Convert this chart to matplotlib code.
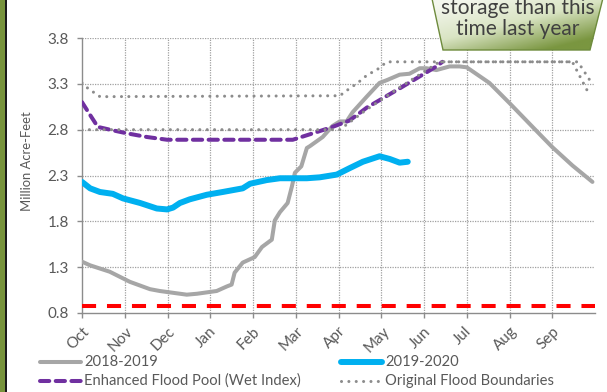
import numpy as np
import matplotlib
matplotlib.use("Agg")
import matplotlib.pyplot as plt
from matplotlib.lines import Line2D
from matplotlib.patches import Polygon, Rectangle
from matplotlib.colors import LinearSegmentedColormap
from matplotlib.transforms import ScaledTranslation

plt.rcParams['font.family'] = ['Lato', 'DejaVu Sans']

# ---- data (x = months since Oct 1, water year) ----
months = ["Oct", "Nov", "Dec", "Jan", "Feb", "Mar",
          "Apr", "May", "Jun", "Jul", "Aug", "Sep"]
y_ticks = [0.8, 1.3, 1.8, 2.3, 2.8, 3.3, 3.8]

wy2019_x = [0.00, 0.19, 0.65, 1.12, 1.59, 1.82, 2.45, 2.69, 3.15, 3.39, 3.50,
            3.57, 3.76, 4.04, 4.21, 4.44, 4.51, 4.63, 4.81, 4.91, 4.98, 5.13,
            5.26, 5.33, 5.63, 5.86, 6.03, 6.19, 6.33, 6.66, 6.96, 7.13, 7.43,
            7.66, 7.90, 8.06, 8.29, 8.60, 8.83, 9.00, 9.53, 10.00, 10.54,
            11.00, 11.47, 11.94]
wy2019_y = [1.36, 1.32, 1.25, 1.14, 1.06, 1.04, 1.00, 1.01, 1.04, 1.09, 1.11,
            1.24, 1.35, 1.41, 1.52, 1.60, 1.81, 1.90, 2.00, 2.18, 2.33, 2.40,
            2.60, 2.62, 2.72, 2.84, 2.89, 2.89, 2.99, 3.16, 3.31, 3.34, 3.40,
            3.41, 3.47, 3.47, 3.45, 3.49, 3.49, 3.48, 3.31, 3.09, 2.83,
            2.61, 2.41, 2.23]

wy2020_x = [0.00, 0.19, 0.42, 0.72, 0.96, 1.36, 1.75, 1.99, 2.13, 2.29, 2.52,
            2.92, 3.29, 3.76, 3.93, 4.32, 4.63, 5.26, 5.56, 5.96, 6.26, 6.57,
            6.96, 7.20, 7.43, 7.62]
wy2020_y = [2.23, 2.16, 2.12, 2.10, 2.05, 2.00, 1.94, 1.93, 1.95, 2.00, 2.04,
            2.09, 2.12, 2.16, 2.21, 2.25, 2.27, 2.27, 2.28, 2.31, 2.38, 2.45,
            2.51, 2.48, 2.44, 2.45]

enhanced_x = [0.00, 0.19, 0.37, 0.65, 1.05, 1.52, 1.99, 4.93, 5.40, 5.86,
              6.26, 6.66, 7.43, 8.29, 8.43]
enhanced_y = [3.10, 2.96, 2.83, 2.80, 2.76, 2.72, 2.69, 2.69, 2.76, 2.83,
              2.90, 3.04, 3.25, 3.49, 3.54]

orig_upper_x = [0.00, 0.14, 0.42, 6.03, 6.26, 6.45, 6.68, 6.89, 7.13, 11.47, 11.87]
orig_upper_y = [3.31, 3.25, 3.16, 3.17, 3.25, 3.31, 3.40, 3.45, 3.54, 3.54, 3.18]

orig_lower_x = [0.00, 6.03, 6.66, 7.43, 8.36, 11.60, 11.92]
orig_lower_y = [2.80, 2.80, 3.02, 3.26, 3.54, 3.54, 3.31]

dead_pool_x = [0.0, 12.0]
dead_pool_y = [0.88, 0.88]

# ---- styles ----
TXT = '#595959'
styles = {
    '2018-2019': dict(color='#A6A6A6', lw=2.9, solid_capstyle='round'),
    '2019-2020': dict(color='#00B0F0', lw=4.3, solid_capstyle='round'),
    'Enhanced Flood Pool (Wet Index)': dict(color='#7030A0', lw=2.9,
                                            linestyle=(0, (2.3, 1.6)),
                                            dash_capstyle='round'),
    'Original Flood Boundaries': dict(color='#8C8C8C', lw=2.2,
                                      linestyle=(0, (0.01, 2.4)),
                                      dash_capstyle='round'),
    'dead': dict(color='#FF0000', lw=2.9, linestyle=(0, (3.5, 2.7)),
                 dash_capstyle='butt'),
}

W, H = 607, 392
fig = plt.figure(figsize=(W / 100, H / 100), dpi=100)

# frame stripe on the left edge
fig.add_artist(Rectangle((0, 0), 5 / W, 1, transform=fig.transFigure,
                         color='#77933C', lw=0))
fig.add_artist(Rectangle((5 / W, 0), 2 / W, 1, transform=fig.transFigure,
                         color='#1a1a1a', lw=0))

left, right, top, bottom = 82, 595, 38, 313
ax = fig.add_axes([left / W, 1 - bottom / H, (right - left) / W, (bottom - top) / H])
ax.set_xlim(0, 12)
ax.set_ylim(0.8, 3.8)

ax.plot(dead_pool_x, dead_pool_y, **styles['dead'], zorder=3)
ax.plot(wy2019_x, wy2019_y, **styles['2018-2019'], zorder=4)
ax.plot(wy2020_x, wy2020_y, **styles['2019-2020'], zorder=5)
ax.plot(enhanced_x, enhanced_y, **styles['Enhanced Flood Pool (Wet Index)'], zorder=6)
ax.plot(orig_upper_x, orig_upper_y, **styles['Original Flood Boundaries'], zorder=7)
ax.plot(orig_lower_x, orig_lower_y, **styles['Original Flood Boundaries'], zorder=7)

# grid
for m in range(1, 12):
    ax.axvline(m, color='#A0A0A0', lw=0.9, linestyle=(0, (1, 1)), zorder=1)
for v in y_ticks[1:]:
    ax.axhline(v, color='#A0A0A0', lw=0.9, linestyle=(0, (1, 1)), zorder=1)

for s in ['top', 'right']:
    ax.spines[s].set_visible(False)
for s in ['left', 'bottom']:
    ax.spines[s].set_color('#8C8C8C')
    ax.spines[s].set_linewidth(1.0)

ax.set_yticks(y_ticks)
ax.set_yticklabels([f"{v:.1f}" for v in y_ticks])
ax.set_xticks(range(12))
ax.set_xticklabels(months, rotation=45, ha='center', va='top')
ax.tick_params(axis='both', colors='#8C8C8C', labelcolor=TXT, length=3.6,
               width=1.0, labelsize=11, direction='out')
ax.tick_params(axis='y', pad=6)
ax.tick_params(axis='x', pad=3)
shift = ScaledTranslation(-4 / 100, -2 / 100, fig.dpi_scale_trans)
for lbl in ax.get_xticklabels():
    lbl.set_transform(lbl.get_transform() + shift)

fig.text(27 / W, 1 - 161 / H, "Million Acre-Feet", rotation=90, ha='center',
         va='center', color=TXT, fontsize=9.4)

# legend drawn in figure pixel space
def legend_entry(x0, y, label):
    st = dict(styles[label])
    fig.add_artist(Line2D([x0 / W, (x0 + 41) / W], [1 - y / H, 1 - y / H],
                          transform=fig.transFigure, **st))
    fig.text((x0 + 44) / W, 1 - y / H, label, ha='left', va='center',
             color=TXT, fontsize=10.6)

legend_entry(40, 362, '2018-2019')
legend_entry(341, 362, '2019-2020')
legend_entry(40, 381, 'Enhanced Flood Pool (Wet Index)')
legend_entry(341, 381, 'Original Flood Boundaries')

# callout box at the top right
ov = fig.add_axes([0, 0, 1, 1], zorder=20)
ov.set_xlim(0, W)
ov.set_ylim(H, 0)
ov.axis('off')
ov.patch.set_alpha(0)
verts = [(431, -6), (604, -6), (590, 50), (443, 50)]
poly = Polygon(verts, closed=True, fc='none', ec='#6E8B3D', lw=1.0, zorder=3)
ov.add_patch(poly)
gx, gy = np.meshgrid(np.linspace(431, 604, 200), np.linspace(-6, 50, 80))
t = np.clip(0.6 * (gx - 431) / 173 + 0.8 * (gy + 6) / 56 - 0.2, 0, 1)
cmap = LinearSegmentedColormap.from_list('g', ['#F4F7EE', '#D9E4C3', '#7A9640'])
im = ov.imshow(t, extent=(431, 604, 50, -6), cmap=cmap, vmin=0, vmax=1,
               aspect='auto', zorder=2, interpolation='bilinear')
im.set_clip_path(poly)
ov.text(518, 8, "storage than this", ha='center', va='center', color='#404040',
        fontsize=15, zorder=4)
ov.text(518, 29, "time last year", ha='center', va='center', color='#404040',
        fontsize=15, zorder=4)
ov.set_xlim(0, W)
ov.set_ylim(H, 0)

fig.savefig('out.png', dpi=100)
